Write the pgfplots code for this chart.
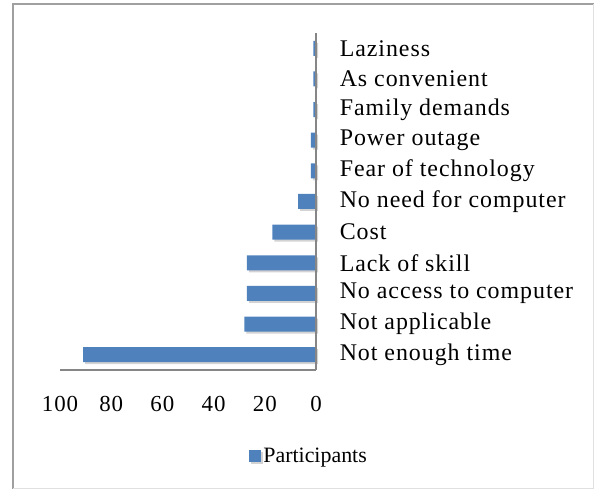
\documentclass[border=0pt]{standalone}
\usepackage{pgfplots}
\pgfplotsset{compat=1.18}
\usepackage{fontspec}
\setmainfont{Liberation Serif}
\newfontfamily\spaced{Liberation Serif}[LetterSpace=4]
\usetikzlibrary{shadows}
\definecolor{barblue}{HTML}{4F81BD}
\definecolor{axgray}{HTML}{868686}
\definecolor{framegray}{HTML}{A0A0A0}
\definecolor{framelight}{HTML}{E0E0E0}
\begin{document}
\begin{tikzpicture}
\path[use as bounding box] (0bp,0bp) rectangle (594bp,489bp);
\draw[framegray, line width=2bp] (13bp,0bp) -- (13bp,484.5bp) -- (594bp,484.5bp);
\draw[framelight, line width=1bp] (593bp,484.5bp) -- (593bp,1bp) -- (13bp,1bp);
\begin{axis}[
  at={(316bp,119bp)}, anchor=south east,
  scale only axis, width=256bp, height=337bp,
  xbar, bar width=15bp,
  xmin=0, xmax=100, x dir=reverse,
  ymin=-0.5, ymax=10.5,
  axis line style={draw=none},
  tick style={draw=none},
  xtick={0,20,40,60,80,100},
  ytick={0,...,10},
  yticklabels={Not enough time, Not applicable, No access to computer, Lack of skill, Cost, No need for computer, Fear of technology, Power outage, Family demands, As convenient, Laziness},
  yticklabel pos=right,
  yticklabel style={anchor=west, xshift=16bp, font=\spaced\fontsize{24}{28}\selectfont},
  xticklabel style={anchor=north, yshift=-23bp, font=\spaced\fontsize{23}{27}\selectfont},
  /pgf/number format/assume math mode=true,
  legend style={at={(axis description cs:0.973,-0.256)}, anchor=center, draw=none, fill=none, font=\fontsize{22}{26}\selectfont},
  legend image code/.code={\fill[#1] (0bp,-6bp) rectangle (12bp,6bp);},
  clip=false,
]
\addplot[fill=barblue, draw=none, drop shadow={shadow xshift=2bp, shadow yshift=-2bp, opacity=0.35}] coordinates {
(91,0) (28,1) (27,2) (27,3) (17,4) (7,5) (2,6) (2,7) (1,8) (1,9) (1,10)
};
\addlegendentry{Participants}
\draw[axgray, line width=1.5bp] (axis cs:0,-0.5) -- (axis cs:0,10.5);
\draw[axgray, line width=1.5bp] (axis cs:0,-0.5) -- (axis cs:100,-0.5);
\end{axis}
\end{tikzpicture}
\end{document}
